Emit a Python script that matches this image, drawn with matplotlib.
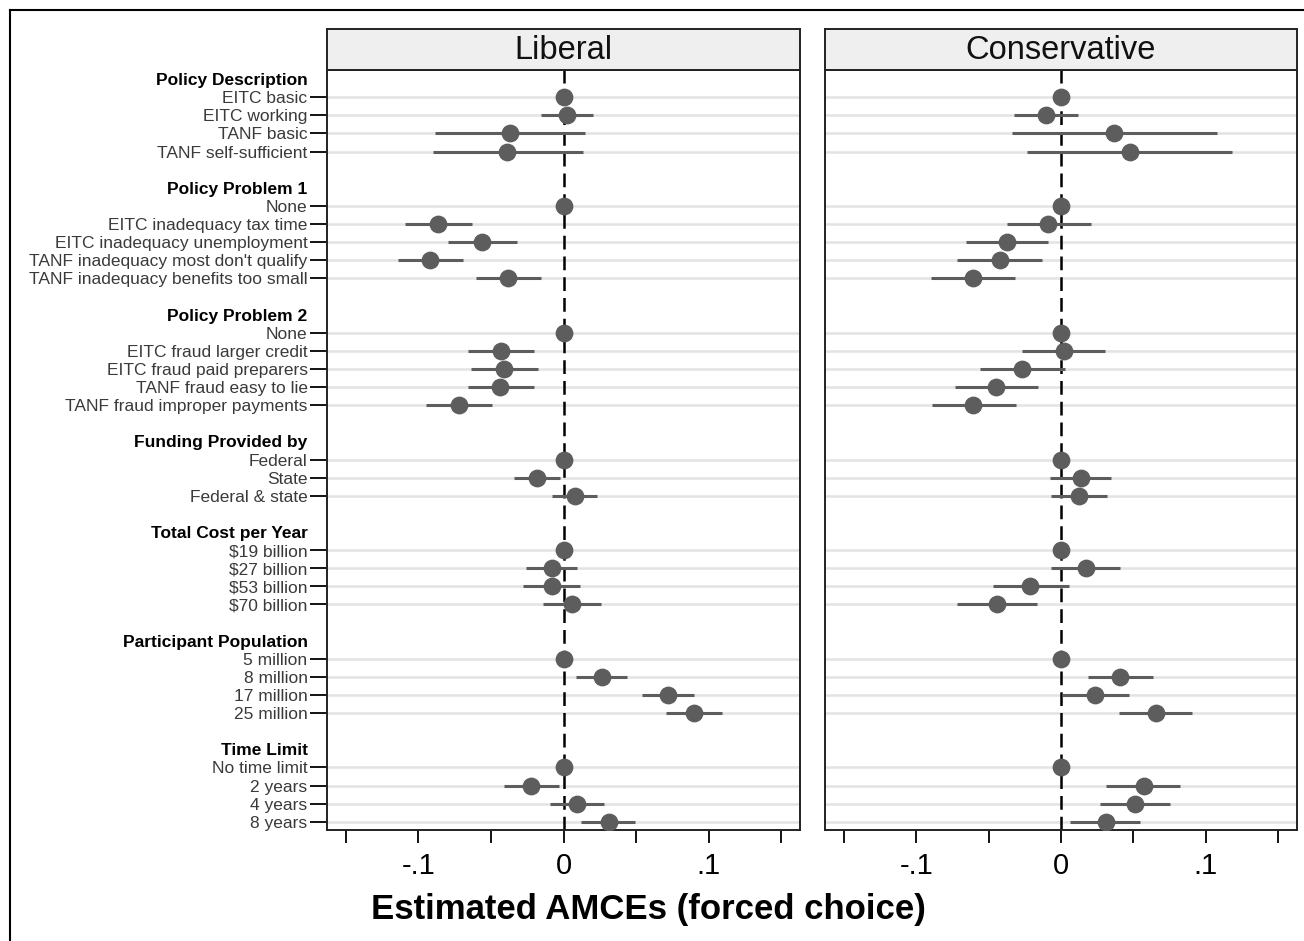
import numpy as np
import matplotlib
matplotlib.use("Agg")
import matplotlib.pyplot as plt
from matplotlib.lines import Line2D

plt.rcParams['font.family'] = ['Liberation Sans', 'DejaVu Sans']

# ---------------- data ----------------
group_titles = ["Policy Description", "Policy Problem 1", "Policy Problem 2",
                "Funding Provided by", "Total Cost per Year",
                "Participant Population", "Time Limit"]
group_items = [
    ["EITC basic", "EITC working", "TANF basic", "TANF self-sufficient"],
    ["None", "EITC inadequacy tax time", "EITC inadequacy unemployment",
     "TANF inadequacy most don't qualify", "TANF inadequacy benefits too small"],
    ["None", "EITC fraud larger credit", "EITC fraud paid preparers",
     "TANF fraud easy to lie", "TANF fraud improper payments"],
    ["Federal", "State", "Federal & state"],
    ["$19 billion", "$27 billion", "$53 billion", "$70 billion"],
    ["5 million", "8 million", "17 million", "25 million"],
    ["No time limit", "2 years", "4 years", "8 years"],
]
nan = np.nan
lib_est = [0, 0.0023, -0.0372, -0.0388,
           0, -0.0865, -0.0562, -0.0920, -0.0381,
           0, -0.0429, -0.0408, -0.0436, -0.0720,
           0, -0.0183, 0.0078,
           0, -0.0080, -0.0078, 0.0057,
           0, 0.0264, 0.0722, 0.0897,
           0, -0.0225, 0.0096, 0.0312]
lib_lo = [nan, -0.0154, -0.0885, -0.0901,
          nan, -0.1094, -0.0798, -0.1140, -0.0606,
          nan, -0.0656, -0.0638, -0.0660, -0.0945,
          nan, -0.0342, -0.0076,
          nan, -0.0257, -0.0278, -0.0144,
          nan, 0.0085, 0.0541, 0.0704,
          nan, -0.0413, -0.0092, 0.0122]
lib_hi = [nan, 0.0202, 0.0149, 0.0133,
          nan, -0.0631, -0.0321, -0.0695, -0.0154,
          nan, -0.0200, -0.0174, -0.0206, -0.0491,
          nan, -0.0021, 0.0232,
          nan, 0.0096, 0.0117, 0.0259,
          nan, 0.0438, 0.0901, 0.1090,
          nan, -0.0032, 0.0278, 0.0493]
con_est = [0, -0.0103, 0.0366, 0.0474,
           0, -0.0089, -0.0376, -0.0424, -0.0609,
           0, 0.0018, -0.0270, -0.0447, -0.0605,
           0, 0.0137, 0.0126,
           0, 0.0172, -0.0211, -0.0442,
           0, 0.0410, 0.0236, 0.0655,
           0, 0.0573, 0.0513, 0.0311]
con_lo = [nan, -0.0325, -0.0339, -0.0234,
          nan, -0.0373, -0.0655, -0.0717, -0.0896,
          nan, -0.0266, -0.0561, -0.0733, -0.0893,
          nan, -0.0078, -0.0071,
          nan, -0.0066, -0.0470, -0.0715,
          nan, 0.0188, 0.0005, 0.0399,
          nan, 0.0314, 0.0268, 0.0062]
con_hi = [nan, 0.0119, 0.1077, 0.1184,
          nan, 0.0204, -0.0092, -0.0128, -0.0321,
          nan, 0.0307, 0.0025, -0.0160, -0.0314,
          nan, 0.0348, 0.0321,
          nan, 0.0410, 0.0053, -0.0167,
          nan, 0.0634, 0.0472, 0.0907,
          nan, 0.0822, 0.0756, 0.0545]
panel_titles = ["Liberal", "Conservative"]
x_ticks = [-0.15, -0.1, -0.05, 0, 0.05, 0.1, 0.15]
x_ticklabels = ["", "-.1", "", "0", "", ".1", ""]
x_label = "Estimated AMCEs (forced choice)"

# ---------------- row layout ----------------
row_labels, row_is_header, row_pos, item_rows = [], [], [], []
r = 0
for g, (title, items) in enumerate(zip(group_titles, group_items)):
    row_labels.append(title); row_is_header.append(True); row_pos.append(r); r += 1
    for it in items:
        row_labels.append(it); row_is_header.append(False); row_pos.append(r)
        item_rows.append(r); r += 1
    r += 1  # blank between groups
n_rows = item_rows[-1] + 1

W, H = 1304, 941
fig = plt.figure(figsize=(W / 100, H / 100), dpi=100)

def fx(px): return px / W
def fy(py): return 1 - py / H

panels = [(327, 800), (825, 1297)]
top_px, bot_px = 70, 830
strip_top = 29
pt_color = "#5d5d5d"

data = [(lib_est, lib_lo, lib_hi), (con_est, con_lo, con_hi)]

for p, ((x0, x1), (est, lo, hi)) in enumerate(zip(panels, data)):
    ax = fig.add_axes([fx(x0), fy(bot_px), fx(x1 - x0), (bot_px - top_px) / H])
    ax.set_xlim(-0.163, 0.163)
    ax.set_ylim(n_rows - 1 + 0.45, -0.5)
    for yr in item_rows:
        ax.axhline(yr, color="#e3e3e3", lw=1.8, zorder=0)
    ax.axvline(0, color="black", lw=1.8, ls=(0, (5.5, 2.8)), zorder=1)
    est = np.array(est); lo = np.array(lo); hi = np.array(hi)
    yv = np.array(item_rows)
    ax.hlines(yv, lo, hi, color=pt_color, lw=2.2, zorder=2)
    ax.plot(est, yv, "o", ms=11.8, color=pt_color, mec=pt_color, zorder=3)
    ax.set_xticks(x_ticks)
    ax.set_xticklabels(x_ticklabels)
    ax.tick_params(axis="x", direction="out", length=9.5, width=1.3,
                   labelsize=21, pad=6, colors="black")
    for s in ax.spines.values():
        s.set_linewidth(1.4)
        s.set_color("#222222")
    if p == 0:
        ax.set_yticks(row_pos)
        ax.set_yticklabels(row_labels)
        ax.tick_params(axis="y", direction="out", length=12, width=1.3,
                       labelsize=12.5, pad=2)
        for tk, lab, hdr in zip(ax.yaxis.get_major_ticks(), ax.get_yticklabels(), row_is_header):
            if hdr:
                tk.tick1line.set_visible(False)
                lab.set_fontweight("bold")
                lab.set_color("black")
            else:
                lab.set_color("#3a3a3a")
    else:
        ax.set_yticks([])
    # strip
    sax = fig.add_axes([fx(x0), fy(top_px), fx(x1 - x0), (top_px - strip_top) / H])
    sax.set_facecolor("#efefef")
    sax.set_xticks([]); sax.set_yticks([])
    for s in sax.spines.values():
        s.set_linewidth(1.4)
        s.set_color("#222222")
    sax.text(0.5, 0.48, panel_titles[p], ha="center", va="center",
             fontsize=23.5, color="#111111", transform=sax.transAxes)

fig.text(fx(648), fy(910), x_label, ha="center", va="center",
         fontsize=25, fontweight="bold")

# outer frame (left & top edges)
fig.add_artist(Line2D([fx(9.5), fx(9.5)], [0, fy(10)], color="black", lw=1.5,
                      transform=fig.transFigure))
fig.add_artist(Line2D([fx(9.5), 1], [fy(10), fy(10)], color="black", lw=1.5,
                      transform=fig.transFigure))

fig.savefig("out.png", dpi=100, facecolor="white")
